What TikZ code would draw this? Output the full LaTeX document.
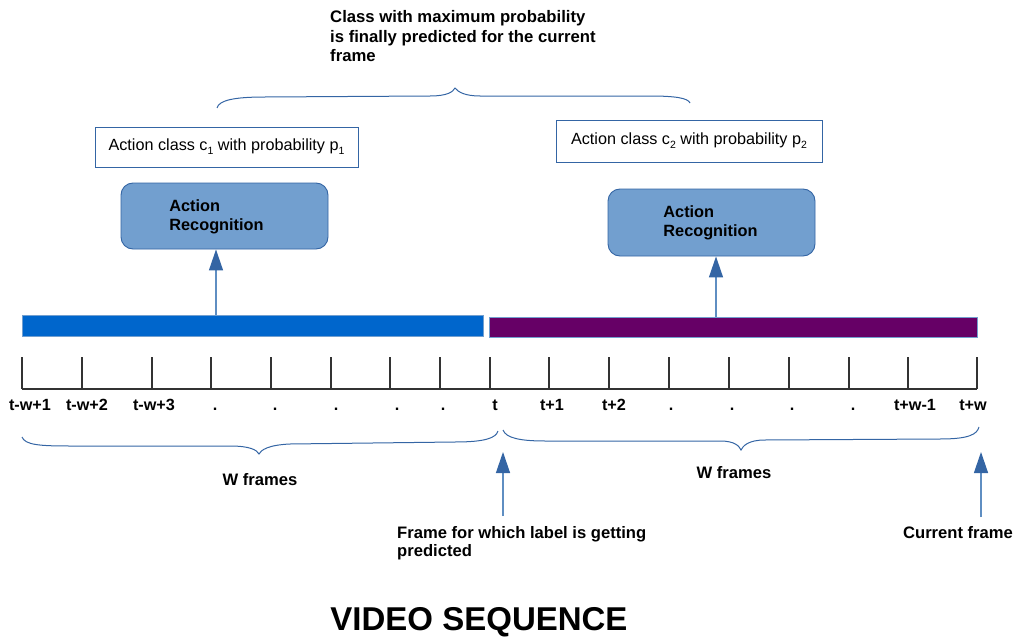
\documentclass[tikz,border=0pt]{standalone}
\usepackage{fontspec}
\setmainfont{Liberation Sans}
\usetikzlibrary{arrows.meta,calc}
\definecolor{bordblue}{HTML}{3465A4}
\definecolor{fillblue}{HTML}{729FCF}
\definecolor{barblue}{HTML}{0066CC}
\definecolor{barpurple}{HTML}{660066}
\definecolor{tline}{HTML}{333333}
\newcommand\mysubx[1]{\raisebox{-4pt}{\fontsize{10.5}{10.5}\selectfont #1}}
\tikzset{
  classbox/.style={draw=bordblue, line width=0.9pt, fill=white, inner sep=0pt, font=\fontsize{16.2}{18}\selectfont},
  arbox/.style={draw=bordblue, line width=0.9pt, fill=fillblue, rounded corners=12pt, inner sep=0pt},
  artext/.style={font=\fontsize{16.3}{19.5}\selectfont\bfseries, align=left, inner sep=0pt},
  bar/.style={draw=fillblue, line width=0.8pt, inner sep=0pt},
  tick/.style={line width=1.2pt, draw=tline},
  tlabel/.style={font=\fontsize{16.2}{19}\selectfont\bfseries, inner sep=0pt},
  lbl/.style={font=\fontsize{16.6}{18.5}\selectfont\bfseries, inner sep=0pt, align=left},
  brace/.style={draw=bordblue, line width=1pt},
  arr/.style={draw=fillblue!70!bordblue, line width=1.3pt, -{Triangle[width=14pt,length=21pt,color=bordblue]}},
}
\begin{document}
\begin{tikzpicture}[x=1pt,y=-1pt]
\useasboundingbox (0,0) rectangle (1015,642);
% top text
\node[lbl, anchor=north west, font=\fontsize{16.7}{19.5}\selectfont\bfseries] (top) at (330,10.5) {Class with maximum probability\\is finally predicted for the current\\frame};
% top brace
\draw[brace] (217,108) .. controls (219,100) and (235,97) .. (265,97) -- (430,96) .. controls (447,96) and (453,92) .. (455,88) .. controls (458,92) and (465,96) .. (480,96) -- (650,96) .. controls (675,96) and (688,98) .. (690,103);
% class boxes
\node[classbox, minimum width=263pt, minimum height=40pt] (cb1) at (226.5,147) {Action class c\mysubx{1} with probability p\mysubx{1}};
\node[classbox, minimum width=266pt, minimum height=42pt] (cb2) at (689,141) {Action class c\mysubx{2} with probability p\mysubx{2}};
% action recognition boxes
\node[arbox, minimum width=207pt, minimum height=66pt] (ar1) at (224.5,216) {};
\node[artext] (ar1t) at ([xshift=-8pt,yshift=-1pt]ar1.center) {Action\\Recognition};
\node[arbox, minimum width=207pt, minimum height=67pt] (ar2) at (711.5,222.5) {};
\node[artext] (ar2t) at ([xshift=-1pt,yshift=-0.5pt]ar2.center) {Action\\Recognition};
% bars
\node[bar, fill=barblue, minimum width=461pt, minimum height=21pt] (bar1) at (252.5,325.5) {};
\node[bar, fill=barpurple, minimum width=488pt, minimum height=20pt] (bar2) at (733,327) {};
% arrows from bars
\coordinate (a1x) at (216,0);
\coordinate (a2x) at (716,0);
\draw[arr] (bar1.north -| a1x) -- (ar1.south -| a1x);
\draw[arr] (bar2.north -| a2x) -- (ar2.south -| a2x);
% timeline
\draw[tick] (22,389) -- (977,389);
\foreach \x in {22,82,152,211,271,331,390,440,490,549,609,669,729,789,849,908,977}
  \draw[tick] (\x,357) -- (\x,389);
% labels
\foreach \x/\t in {30/t-w+1, 87/t-w+2, 154/t-w+3, 215/., 275/., 336/., 397/., 443/., 495/t, 552/t+1, 614/t+2, 671/., 732/., 792/., 853/., 915/t+w-1, 973/t+w}
  \node[tlabel] at (\x,407) {\strut\t};
% bottom braces
\draw[brace] (22,437) .. controls (25,445) and (40,446) .. (70,446) -- (230,446) .. controls (250,446) and (257,450) .. (259,454) .. controls (261,450) and (268,445) .. (290,444) -- (455,442) .. controls (485,442) and (496,438) .. (498,431);
\draw[brace] (503,430) .. controls (506,438) and (520,441) .. (545,441) -- (720,441) .. controls (735,441) and (739,446) .. (741,450) .. controls (743,446) and (748,440) .. (765,440) -- (940,439) .. controls (970,439) and (977,434) .. (979,427);
\node[lbl] (wf1) at (260,480) {W frames};
\node[lbl] (wf2) at (734,473) {W frames};
% bottom arrows
\coordinate (b1s) at (503,516);
\coordinate (b1e) at (503,452);
\coordinate (b2s) at (981,517);
\coordinate (b2e) at (981,452);
\draw[arr] (b1s) -- (b1e);
\draw[arr] (b2s) -- (b2e);
\node[lbl, anchor=north west] (fl) at (397,526) {Frame for which label is getting\\predicted};
\node[lbl] (cf) at (958,533) {Current frame};
% title
\node[font=\fontsize{33}{36}\selectfont\bfseries, inner sep=0pt] (title) at (479,622) {VIDEO SEQUENCE};
\end{tikzpicture}
\end{document}
